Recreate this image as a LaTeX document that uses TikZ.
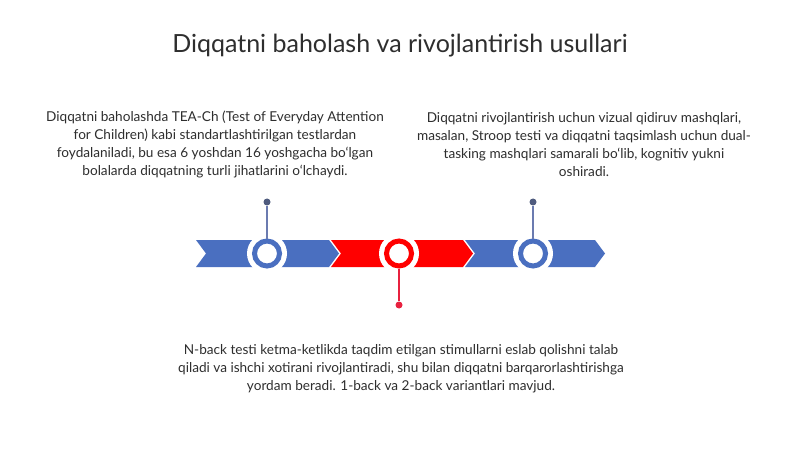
\documentclass[tikz,border=0pt]{standalone}
\usepackage{fontspec}
\setmainfont{Lato}
\definecolor{tblue}{HTML}{4A6FC0}
\definecolor{tred}{HTML}{FF0000}
\definecolor{stemblue}{HTML}{6B7BB0}
\definecolor{dotblue}{HTML}{4F5B7E}
\definecolor{stemred}{HTML}{E8213F}
\definecolor{txt}{HTML}{2E2E2E}
\tikzset{
  chev/.style={fill=#1, draw=none},
  ringw/.style={circle, fill=white, minimum size=40pt, inner sep=0pt},
  ring/.style={circle, draw=#1, line width=5pt, fill=white, minimum size=25pt, inner sep=0pt},
  dot/.style={circle, fill=#1, minimum size=7pt, inner sep=0pt},
  stem/.style={draw=#1, line width=1.3pt},
  para/.style={align=center, text=txt, font=\fontsize{13.6}{17.8}\selectfont},
}
\begin{document}
\begin{tikzpicture}[x=1pt,y=-1pt]
\useasboundingbox[fill=white] (0,0) rectangle (800,449);
\node[text=txt, font=\fontsize{25}{29}\selectfont] (title) at (400,46) {Diqqatni baholash va rivojlantirish usullari};
% chevrons
\fill[chev=tblue] (196,240) -- (329,240) -- (339,253.5) -- (329,267) -- (196,267) -- (206,253.5) -- cycle;
\fill[chev=tred] (331,240) -- (463,240) -- (473,253.5) -- (463,267) -- (331,267) -- (341,253.5) -- cycle;
\fill[chev=tblue] (465,240) -- (595,240) -- (605,253.5) -- (595,267) -- (465,267) -- (475,253.5) -- cycle;
% rings
\node[ringw] (w1) at (267,253.5) {};
\node[ringw] (w2) at (399,253.5) {};
\node[ringw] (w3) at (533,253.5) {};
\node[ring=tblue] (c1) at (267,253.5) {};
\node[ring=tred] (c2) at (399,253.5) {};
\node[ring=tblue] (c3) at (533,253.5) {};
% stems
\node[dot=dotblue] (d1) at (267,202) {};
\node[dot=dotblue] (d3) at (533,202) {};
\node[dot=stemred] (d2) at (399,305) {};
\draw[stem=stemblue] (d1) -- (c1.north);
\draw[stem=stemblue] (d3) -- (c3.north);
\draw[stem=stemred] (c2.south) -- (d2);
% texts
\node[para] (t1) at (215,144.5) {Diqqatni baholashda TEA-Ch (Test of Everyday Attention\\for Children) kabi standartlashtirilgan testlardan\\foydalaniladi, bu esa 6 yoshdan 16 yoshgacha bo‘lgan\\bolalarda diqqatning turli jihatlarini o‘lchaydi.};
\node[para] (t3) at (584,144.5) {Diqqatni rivojlantirish uchun vizual qidiruv mashqlari,\\masalan, Stroop testi va diqqatni taqsimlash uchun dual-\\tasking mashqlari samarali bo‘lib, kognitiv yukni\\oshiradi.};
\node[para] (t2) at (401,369) {N-back testi ketma-ketlikda taqdim etilgan stimullarni eslab qolishni talab\\qiladi va ishchi xotirani rivojlantiradi, shu bilan diqqatni barqarorlashtirishga\\yordam beradi. 1-back va 2-back variantlari mavjud.};
\end{tikzpicture}
\end{document}
